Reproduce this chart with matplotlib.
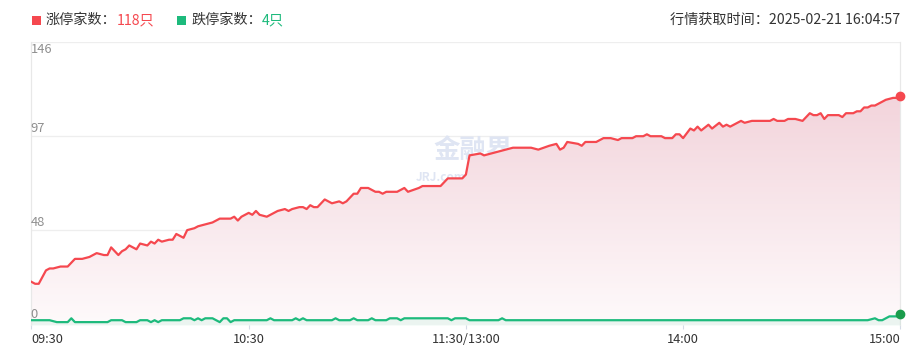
import numpy as np
import matplotlib
matplotlib.use('Agg')
import matplotlib.pyplot as plt
from matplotlib.transforms import blended_transform_factory

plt.rcParams['font.family'] = ['Noto Sans CJK SC', 'DejaVu Sans']

# minutes since 09:30 (lunch break removed), counts
up_min = [0, 1, 2, 4, 5, 6, 8, 10, 11, 12, 14, 16, 18, 20, 21, 22, 24, 25, 26, 27,
          29, 30, 32, 33, 34, 35, 36, 38, 39, 40, 42, 43, 45, 46, 48, 50, 52, 55, 56, 57,
          58, 60, 61, 62, 63, 65, 67, 68, 70, 71, 72, 74, 75, 76, 77, 78, 79, 81, 82, 83,
          85, 86, 87, 89, 90, 91, 93, 95, 96, 97, 98, 101, 102, 103, 104, 107, 108, 113, 115, 119,
          120, 121, 124, 125, 127, 129, 131, 133, 138, 140, 143, 145, 146, 147, 148, 151, 152, 153, 156, 158,
          160, 162, 163, 166, 167, 169, 170, 171, 174, 175, 177, 178, 179, 180, 182, 183, 184, 185, 187, 188,
          190, 191, 192, 193, 194, 196, 197, 199, 204, 205, 206, 208, 209, 211, 213, 214, 215, 216, 217, 218,
          219, 220, 223, 224, 225, 227, 228, 229, 230, 231, 232, 233, 235, 236, 238, 239, 240]
up_val = [21, 20, 20, 27, 28, 28, 29, 29, 31, 33, 33, 34, 36, 35, 35, 39, 35, 37, 38, 40,
          38, 41, 40, 42, 41, 43, 42, 43, 43, 46, 44, 48, 49, 50, 51, 52, 54, 54, 55, 53,
          55, 57, 56, 58, 56, 55, 57, 58, 59, 58, 59, 60, 60, 59, 61, 60, 60, 64, 63, 62,
          63, 62, 63, 67, 67, 70, 70, 68, 68, 67, 68, 68, 69, 70, 68, 70, 71, 71, 75, 75,
          77, 87, 88, 87, 88, 89, 90, 91, 91, 90, 92, 93, 90, 91, 94, 93, 92, 94, 94, 96,
          96, 95, 96, 96, 97, 97, 98, 97, 97, 96, 96, 98, 98, 96, 101, 100, 102, 100, 103, 101,
          104, 102, 103, 102, 103, 105, 104, 105, 105, 106, 105, 105, 106, 106, 105, 107, 109, 108, 108, 109,
          106, 108, 108, 107, 109, 109, 110, 110, 112, 112, 113, 113, 115, 116, 117, 117, 118]

down_min = [0, 5, 7, 10, 11, 12, 21, 22, 25, 26, 29, 30, 32, 33, 34, 35, 36, 41, 42, 44,
            45, 46, 47, 48, 50, 51, 52, 53, 54, 55, 56, 65, 66, 67, 72, 73, 74, 75, 76, 83,
            84, 85, 88, 89, 90, 93, 94, 95, 98, 99, 101, 102, 103, 115, 116, 117, 120, 121, 129, 130,
            131, 231, 233, 234, 235, 236, 237, 239, 240]
down_val = [1, 1, 0, 0, 2, 0, 0, 1, 1, 0, 0, 1, 1, 0, 1, 0, 1, 1, 2, 2,
            1, 2, 1, 2, 2, 1, 0, 2, 2, 0, 1, 1, 2, 1, 1, 2, 1, 2, 1, 1,
            2, 1, 1, 2, 1, 1, 2, 1, 1, 2, 2, 1, 2, 2, 1, 2, 2, 1, 1, 2,
            1, 1, 2, 1, 1, 2, 3, 3, 4]

tick_pos = [0, 60, 120, 180, 240]
tick_lab = ['09:30', '10:30', '11:30/13:00', '14:00', '15:00']
y_levels = [0, 48, 97, 146]

RED = '#f5484f'
GREEN = '#1dba7c'

W, H = 924, 361
fig = plt.figure(figsize=(W / 100, H / 100), dpi=100)
ax = fig.add_axes([31.5 / W, (H - 325) / H, (900.3 - 31.5) / W, (325 - 42.3) / H])
ymin, ymax = -1.5, 146
ax.set_xlim(0, 240)
ax.set_ylim(ymin, ymax)

for v in y_levels[1:]:
    ax.axhline(v, color='#eeeeee', lw=0.9, zorder=0)
for s in ['top', 'bottom']:
    ax.spines[s].set_visible(False)
for s in ['left', 'right']:
    ax.spines[s].set_color('#e8e8e8')
    ax.spines[s].set_linewidth(0.9)

# watermark
ax.text(122, 89, '金融界', fontsize=19, fontweight='bold', color='#dfe5f3',
        ha='center', va='center', zorder=1)
ax.text(113, 75.5, 'JRJ.com', fontsize=8.5, fontweight='bold', color='#dfe5f3',
        ha='center', va='center', zorder=1)

# gradient area under the red line
poly = ax.fill_between(up_min, up_val, ymin, color='none', lw=0)
grad = np.linspace(0, 1, 256)[:, None, None]
top_c = np.array([240, 203, 212]) / 255
bot_c = np.array([254, 250, 251]) / 255
img = top_c * (1 - grad) + bot_c * grad
im = ax.imshow(img, extent=[0, 240, ymin, ymax], aspect='auto', zorder=2, origin='upper')
im.set_clip_path(poly.get_paths()[0], transform=ax.transData)

ax.fill_between(down_min, down_val, ymin, color=GREEN, alpha=0.08, lw=0, zorder=3)
ax.plot(up_min, up_val, color=RED, lw=1.6, zorder=4, solid_joinstyle='round')
ax.plot(down_min, down_val, color=GREEN, lw=1.6, zorder=4, solid_joinstyle='round')
ax.plot([up_min[-1]], [up_val[-1]], 'o', color=RED, ms=6, zorder=5, clip_on=False)
ax.plot([down_min[-1]], [down_val[-1]], 'o', color='#1a9c4c', ms=6, zorder=5, clip_on=False)

# y labels inside the plot
tr = blended_transform_factory(ax.transAxes, ax.transData)
for v in y_levels:
    if v == y_levels[-1]:
        ax.text(-0.001, v - 0.3, str(v), transform=tr, fontsize=9.3,
                color='#8f8f8f', ha='left', va='top', zorder=6)
    else:
        ax.text(-0.001, v + 0.5, str(v), transform=tr, fontsize=9.3,
                color='#8f8f8f', ha='left', va='bottom', zorder=6)
ax.set_yticks([])

ax.set_xticks(tick_pos)
ax.set_xticklabels(tick_lab, fontsize=9.2, color='#333333')
ax.tick_params(axis='x', length=3, color='#d5dbe6', pad=3)
labs = ax.get_xticklabels()
labs[0].set_ha('left')
labs[-1].set_ha('right')

# header legend
def ftext(x, y, s, **kw):
    fig.text(x / W, 1 - y / H, s, va='center', fontsize=10.2, **kw)

fig.patches.append(plt.Rectangle((32 / W, 1 - 24.5 / H), 8.5 / W, 8.5 / H,
                                 transform=fig.transFigure, color=RED, lw=0))
ftext(46, 20, '涨停家数：', color='#333333')
ftext(117, 20, '118只', color=RED)
fig.patches.append(plt.Rectangle((177 / W, 1 - 24.5 / H), 8.5 / W, 8.5 / H,
                                 transform=fig.transFigure, color=GREEN, lw=0))
ftext(191, 20, '跌停家数：', color='#333333')
ftext(262, 20, '4只', color=GREEN)
ftext(900, 20, '行情获取时间：2025-02-21 16:04:57', color='#333333', ha='right')

fig.savefig('out.png', dpi=100)
